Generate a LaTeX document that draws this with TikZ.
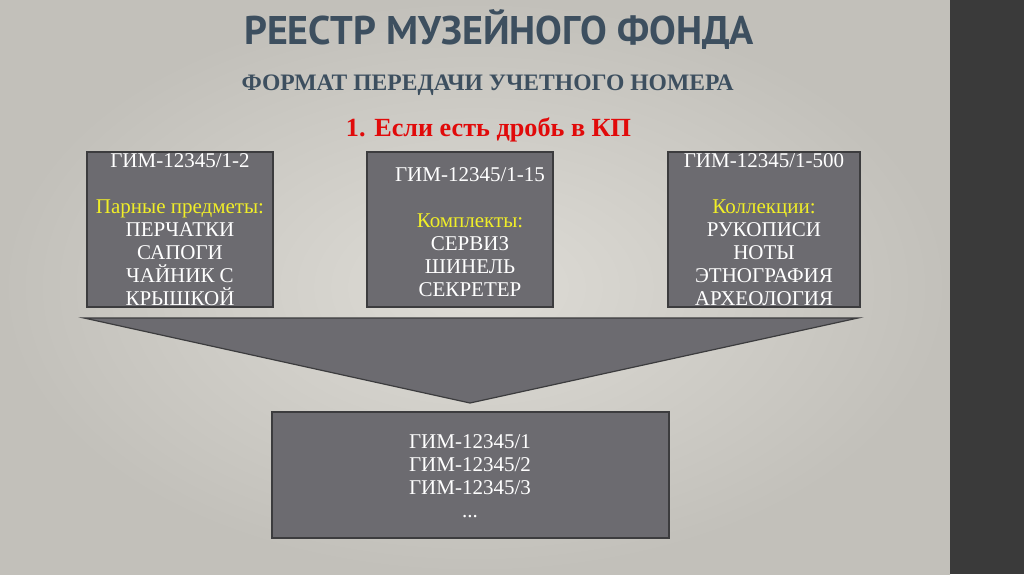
\documentclass[tikz,border=0pt]{standalone}
\usepackage{fontspec}
\setmainfont{Liberation Serif}
\newfontfamily\headfont{PT Sans}

\definecolor{bgin}{RGB}{222,220,214}
\definecolor{bgout}{RGB}{194,192,186}
\definecolor{sidebar}{RGB}{58,58,58}
\definecolor{titleblue}{RGB}{61,79,95}
\definecolor{boxgray}{RGB}{108,107,112}
\definecolor{boxline}{RGB}{60,60,62}
\definecolor{labelyellow}{RGB}{240,238,40}
\definecolor{casered}{RGB}{225,10,10}

\tikzset{
  kpbox/.style={draw=boxline, line width=0.7pt, fill=boxgray, inner sep=0pt,
    minimum width=93pt, minimum height=77.5pt},
  kptext/.style={text=white, align=center, inner sep=0pt,
    font=\fontsize{10.5}{11.5}\selectfont},
}

\begin{document}
\begin{tikzpicture}[x=0.5pt,y=-0.5pt]
	\useasboundingbox (0,0) rectangle (1024,574);
	\shade [inner color=bgin, outer color=bgout] (0,0) rectangle (950,574);
	\fill [sidebar] (950,0) rectangle (1024,574);
	
	% headings
	\node [anchor=base, text=titleblue, font=\headfont\bfseries\fontsize{20}{24}\selectfont] (title) at (499,44) {РЕЕСТР МУЗЕЙНОГО ФОНДА};
	\node [anchor=base, text=titleblue, font=\bfseries\fontsize{11.8}{14}\selectfont] (subtitle) at (487.5,90) {ФОРМАТ ПЕРЕДАЧИ УЧЕТНОГО НОМЕРА};
	\node [anchor=base, text=casered, font=\bfseries\fontsize{13.1}{15}\selectfont] (case) at (488.5,136) {1. Если есть дробь в КП};
	
	% three source boxes
	\node [kpbox] (kp1) at (180,229.5) {};
	\node [kpbox] (kp2) at (460,229.5) {};
	\node [kpbox, minimum width=96pt] (kp3) at (764,229.5) {};
	
	\node [kptext] (t1) at (180,230) {ГИМ-12345/1-2\\[11.5pt]\textcolor{labelyellow}{Парные предметы:}\\ПЕРЧАТКИ\\САПОГИ\\ЧАЙНИК С\\КРЫШКОЙ};
	\node [kptext] (t2) at (470,232) {ГИМ-12345/1-15\\[11.5pt]\textcolor{labelyellow}{Комплекты:}\\СЕРВИЗ\\ШИНЕЛЬ\\СЕКРЕТЕР};
	\node [kptext] (t3) at (764,230) {ГИМ-12345/1-500\\[11.5pt]\textcolor{labelyellow}{Коллекции:}\\РУКОПИСИ\\НОТЫ\\ЭТНОГРАФИЯ\\АРХЕОЛОГИЯ};
	
	% funnel
	\draw [fill=boxgray, draw=boxline, line width=0.6pt] (84,318) -- (858,318) -- (470,403) -- cycle;
	
	% result box
	\node [kpbox, minimum width=198.5pt, minimum height=63pt] (res) at (470.5,475) {};
	\node [kptext] (tres) at (470,476) {ГИМ-12345/1\\ГИМ-12345/2\\ГИМ-12345/3\\...};
\end{tikzpicture}
\end{document}
